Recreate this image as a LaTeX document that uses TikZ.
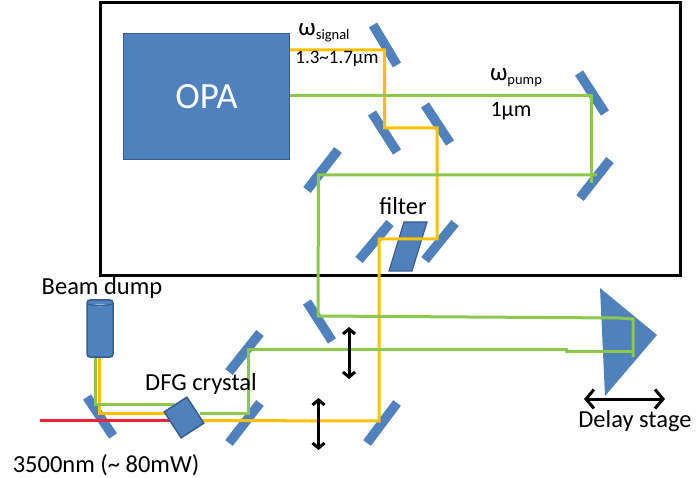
\documentclass[tikz,border=0pt]{standalone}
\usepackage{fontspec}
\setmainfont{Carlito}
\usepackage{tikz}
\usetikzlibrary{arrows.meta}
\definecolor{mirrorblue}{HTML}{4F81BD}
\definecolor{edgeblue}{HTML}{385D8A}
\definecolor{lightblue}{HTML}{A7C0DE}
\definecolor{pumpgreen}{HTML}{8CC84B}
\definecolor{signalorange}{HTML}{FFC000}
\definecolor{idlerred}{HTML}{EE2233}
\tikzset{
	mirror/.style={mirrorblue, line width=9.5pt},
	pumpbeam/.style={pumpgreen, line width=3pt},
	signalbeam/.style={signalorange, line width=3pt},
	idlerbeam/.style={idlerred, line width=3pt},
	motion/.style={black, line width=3pt, {Straight Barb[length=5pt,width=12pt]}-{Straight Barb[length=5pt,width=12pt]}},
	stagemotion/.style={black, line width=3pt, {Straight Barb[length=8pt,width=19pt]}-{Straight Barb[length=8pt,width=19pt]}},
	label/.style={font=\fontsize{24.5}{25}\selectfont, text=black, inner sep=0pt},
	small/.style={font=\fontsize{19}{19}\selectfont, text=black, inner sep=0pt}
}
\newcommand{\omegasub}[1]{{\fontsize{25}{25}\selectfont ω}\raisebox{-4pt}{\fontsize{14.5}{15}\selectfont #1}}
\begin{document}
\begin{tikzpicture}[x=1pt,y=-1pt]
	\useasboundingbox (0,0) rectangle (696,478);
	
	% enclosure
	\node[draw=black, line width=3pt, minimum width=580pt, minimum height=273pt, inner sep=0pt] (frame) at (390.5,139.5) {};
	
	% mirrors
	\foreach \xa/\ya/\xb/\yb in {
		373/25/397/65, 372/113/397/152, 425/105/450/143,
		579/73/605/113, 610/160/580/198, 338/150/307/190,
		390/223/359/260, 455/223/425/260, 307/302/332/341,
		260/333/229/372, 260/403/229/443, 87/397/113/436,
		397/403/367/443}{
		\draw[mirror] (\xa,\ya) -- (\xb,\yb);
	}
	
	% OPA, filter, dump, prism
	\node[fill=mirrorblue, draw=edgeblue, line width=1.2pt, minimum width=166pt, minimum height=126pt, text=white, font=\fontsize{37}{37}\selectfont] (opa) at (206.5,96.5) {OPA};
	\draw[fill=mirrorblue, draw=edgeblue, line width=1.2pt] (404,222) -- (427,222) -- (412,271) -- (389,271) -- cycle;
	\node[fill=mirrorblue, draw=edgeblue, line width=1.5pt, rounded corners=3pt, minimum width=26pt, minimum height=57pt, inner sep=0pt] (dump) at (100,328.5) {};
	\fill[lightblue] (95,304) arc (180:0:5 and 2.5) -- cycle;
	\draw[edgeblue, line width=1pt] (87,304) .. controls (93,306) and (107,306) .. (113,304);
	\fill[mirrorblue] (600,288) -- (657,335) -- (605,396) -- cycle;
	
	% signal beam
	\draw[signalbeam] (opa.east |- 0,50) -- (384.5,50) -- (384.5,128) -- (437,128) -- (437,239) -- (379,239) -- (379,421) -- (193,420.5);
	\draw[signalbeam] ([xshift=-1pt]dump.south) -- (99,413) -- (172,413);
	
	% pump beam
	\draw[pumpbeam] (opa.east |- 0,96) -- (591,96) -- (591,183);
	\draw[pumpbeam] (597,175) -- (318.5,175) -- (318,316) -- (619,318) -- (633,319) -- (633,357);
	\draw[pumpbeam] (633,351) -- (566,351) -- (566,349) -- (248,349) -- (248,413) -- (200,413);
	\draw[pumpbeam] ([xshift=-5pt]dump.south) -- (95,404) -- (175,404);
	
	% 3500 nm input
	\draw[idlerbeam] (40,420) -- (172,420);
	
	% crystal on top of the beams
	\node[fill=mirrorblue, draw=edgeblue, line width=1.5pt, minimum width=27pt, minimum height=31pt, inner sep=0pt, rotate=33] (crystal) at (184,417.5) {};
	
	% stage motion
	\draw[motion] (349,327) -- (349,379);
	\draw[motion] (318.5,398) -- (318.5,450);
	\draw[stagemotion] (584,399) -- (665,399);
	
	% labels
	\node[label] (dumplabel) at (102,288) {Beam dump};
	\node[label] (dfglabel) at (201,384) {DFG crystal};
	\node[label] (filterlabel) at (403,206) {filter};
	\node[label] (inputlabel) at (106,465) {3500nm (\textasciitilde{} 80mW)};
	\node[label] (delaylabel) at (635,421) {Delay stage};
	\node[small] (siglabel) at (324,33) {\omegasub{signal}};
	\node[small] (sigrange) at (337,59) {1.3\textasciitilde{}1.7µm};
	\node[small] (pumplabel) at (516,78) {\omegasub{pump}};
	\node[small,font=\fontsize{22}{22}\selectfont] (pumpwave) at (511,111) {1µm};
\end{tikzpicture}
\end{document}
